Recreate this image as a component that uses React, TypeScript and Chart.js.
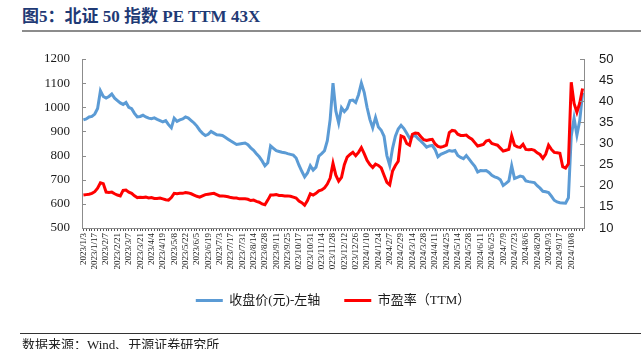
import React, { useEffect, useRef } from 'react';
import { Chart, registerables } from 'chart.js';

Chart.register(...registerables);

// Tick labels shown on the x axis (every 10 trading days)
const tickDates = [
  '2023/1/3', '2023/1/17', '2023/2/7', '2023/2/21', '2023/3/7', '2023/3/21', '2023/4/4', '2023/4/19',
  '2023/5/8', '2023/5/22', '2023/6/5', '2023/6/19', '2023/7/3', '2023/7/17', '2023/7/31', '2023/8/14',
  '2023/8/28', '2023/9/11', '2023/9/25', '2023/10/17', '2023/10/31', '2023/11/14', '2023/11/28',
  '2023/12/12', '2023/12/26', '2024/1/10', '2024/1/24', '2024/2/7', '2024/2/29', '2024/3/14',
  '2024/3/28', '2024/4/11', '2024/4/25', '2024/5/14', '2024/5/28', '2024/6/11', '2024/6/25',
  '2024/7/9', '2024/7/23', '2024/8/6', '2024/8/20', '2024/9/3', '2024/9/17', '2024/10/8',
];
const SAMPLES_PER_TICK = 4;

// 收盘价(元) - left axis
const closePrice = [
  948, 952, 960, 962, 972, 995, 1068, 1045, 1038, 1045,
  1055, 1038, 1028, 1018, 1012, 1020, 1000, 994, 975, 960,
  962, 967, 960, 955, 953, 956, 950, 945, 940, 945,
  928, 915, 955, 942, 948, 952, 960, 955, 945, 935,
  922, 905, 892, 883, 888, 900, 893, 886, 885, 883,
  876, 868, 860, 853, 846, 848, 850, 852, 845, 832,
  822, 808, 795, 778, 758, 770, 840, 830, 820, 817,
  814, 812, 808, 805, 802, 790, 760, 735, 712, 728,
  758, 740, 752, 798, 808, 820, 862, 950, 1100, 985,
  935, 998, 982, 995, 1028, 1030, 1020, 1052, 1100, 1062,
  1000, 950, 915, 958, 918, 905, 880, 800, 760, 830,
  880, 910, 925, 912, 892, 872, 880, 883, 870, 860,
  848, 835, 840, 842, 825, 795, 805, 810, 815, 821,
  818, 821, 800, 792, 787, 800, 785, 770, 755, 732,
  738, 737, 738, 730, 718, 712, 708, 700, 676, 685,
  695, 758, 705, 710, 715, 712, 695, 692, 690, 688,
  675, 665, 652, 650, 647, 632, 615, 608, 605, 604,
  603, 625, 880, 955, 885, 945, 1060,
];

// 市盈率(TTM) - right axis
const peTTM = [
  17.8, 17.9, 18.0, 18.2, 18.6, 19.4, 20.7, 20.5, 18.5, 18.4,
  18.5, 18.1, 17.8, 17.6, 18.9, 19.0, 18.5, 18.2, 17.6, 17.2,
  17.3, 17.2, 17.3, 17.1, 17.2, 17.0, 17.0, 17.1, 16.9, 16.7,
  16.6, 17.2, 18.2, 18.1, 18.2, 18.2, 18.4, 18.3, 18.1, 17.8,
  17.5, 17.3, 17.6, 17.9, 18.0, 18.1, 18.2, 17.9, 17.6, 17.6,
  17.5, 17.4, 17.2, 17.1, 17.1, 16.9, 16.9, 16.9, 16.8, 16.5,
  16.6, 16.3, 16.1, 15.7, 15.5, 16.6, 17.8, 17.8, 17.9, 17.7,
  17.7, 17.6, 17.6, 17.5, 17.3, 17.1, 16.4, 16.0, 15.4, 16.5,
  18.1, 17.8, 18.2, 18.8, 19.0, 19.5, 20.4, 21.8, 25.3, 22.5,
  21.1, 22.0, 25.0, 26.8, 27.4, 27.9, 27.1, 27.9, 29.0, 27.6,
  26.0, 25.0, 24.3, 25.1, 24.8, 24.2, 22.5, 20.8, 20.2, 23.5,
  24.8, 25.8, 31.8, 31.5, 30.0, 29.6, 32.2, 32.5, 32.4, 31.6,
  30.9, 30.7, 30.9, 31.0, 29.9, 29.3, 29.1, 29.3, 29.6, 32.6,
  33.1, 33.0, 32.2, 31.9, 31.9, 32.0, 31.4, 31.0, 30.2, 29.4,
  29.6, 29.8, 30.6, 30.8, 30.0, 29.8, 29.6, 28.9, 28.2, 28.4,
  28.6, 31.8, 29.6, 29.2, 29.1, 29.8, 28.6, 28.5, 28.6, 28.4,
  27.8, 27.4, 26.5, 27.5, 29.6, 28.6, 27.9, 27.8, 27.7, 24.5,
  24.2, 25.2, 44.5, 39.5, 37.4, 39.6, 43.0,
];

const seriesNames = ['收盘价(元)-左轴', '市盈率（TTM）'];
const leftTicks = { min: 500, max: 1200, step: 100 };
const rightTicks = { min: 10, max: 50, step: 5 };

const categories = closePrice.map((_, i) =>
  i % SAMPLES_PER_TICK === 0 ? tickDates[i / SAMPLES_PER_TICK] ?? '' : ''
);

const SERIF = '"Liberation Serif", "Times New Roman", "Noto Sans CJK SC", serif';
const SANS = '"Liberation Sans", Arial, sans-serif';

export default function App() {
  const ref = useRef<HTMLCanvasElement>(null);

  useEffect(() => {
    document.body.style.margin = '0';
    const insideTicks = {
      id: 'insideTicks',
      afterDraw(chart: any) {
        const { ctx, chartArea } = chart;
        ctx.save();
        ctx.strokeStyle = '#8c8c8c';
        ctx.lineWidth = 1;
        const yl = chart.scales.y;
        const yr = chart.scales.y1;
        yl.ticks.forEach((t: any) => {
          const p = Math.round(yl.getPixelForValue(t.value)) + 0.5;
          ctx.beginPath();
          ctx.moveTo(chartArea.left, p);
          ctx.lineTo(chartArea.left + 4, p);
          ctx.stroke();
        });
        yr.ticks.forEach((t: any) => {
          const p = Math.round(yr.getPixelForValue(t.value)) + 0.5;
          ctx.beginPath();
          ctx.moveTo(chartArea.right - 4, p);
          ctx.lineTo(chartArea.right, p);
          ctx.stroke();
        });
        ctx.restore();
      },
    };

    const chart = new Chart(ref.current as HTMLCanvasElement, {
      type: 'line',
      data: {
        labels: categories,
        datasets: [
          {
            label: seriesNames[0],
            data: closePrice,
            borderColor: '#5b9bd5',
            backgroundColor: '#5b9bd5',
            borderWidth: 3,
            pointRadius: 0,
            tension: 0,
            yAxisID: 'y',
            order: 1,
          },
          {
            label: seriesNames[1],
            data: peTTM,
            borderColor: '#ff0000',
            backgroundColor: '#ff0000',
            borderWidth: 3,
            pointRadius: 0,
            tension: 0,
            yAxisID: 'y1',
            order: 0,
          },
        ],
      },
      options: {
        responsive: false,
        animation: false,
        layout: { padding: { top: 59, left: 0, right: 0, bottom: 32 } },
        plugins: {
          tooltip: { enabled: false },
          legend: {
            position: 'bottom',
            fullSize: false,
            labels: {
              boxWidth: 27,
              boxHeight: 3,
              padding: 24,
              color: '#1a1a1a',
              font: { family: SERIF, size: 13 },
              sort: (a: any, b: any) => a.datasetIndex - b.datasetIndex,
              generateLabels: (c: any) =>
                (Chart.defaults.plugins.legend.labels.generateLabels as any)(c).map((l: any) => ({
                  ...l,
                  lineWidth: 0,
                })),
            },
          },
        },
        scales: {
          x: {
            type: 'category',
            offset: true,
            grid: {
              display: true,
              drawOnChartArea: false,
              drawTicks: true,
              tickLength: 3,
              color: '#555',
            },
            border: { display: true, color: '#8c8c8c' },
            ticks: {
              autoSkip: false,
              maxRotation: 90,
              minRotation: 90,
              padding: 2,
              color: '#1a1a1a',
              font: { family: SERIF, size: 9 },
            },
            afterFit: (s: any) => {
              s.height = 42;
            },
          },
          y: {
            position: 'left',
            min: leftTicks.min,
            max: leftTicks.max,
            grid: { display: false, drawTicks: false },
            border: { display: true, color: '#8c8c8c' },
            ticks: {
              stepSize: leftTicks.step,
              padding: 12,
              color: '#1a1a1a',
              font: { family: SERIF, size: 13 },
              callback: (v: any) => String(v),
            },
            afterFit: (s: any) => {
              s.width = 82;
            },
          },
          y1: {
            position: 'right',
            min: rightTicks.min,
            max: rightTicks.max,
            grid: { display: false, drawTicks: false },
            border: { display: true, color: '#8c8c8c' },
            ticks: {
              stepSize: rightTicks.step,
              padding: 15,
              color: '#1a1a1a',
              font: { family: SANS, size: 13 },
              callback: (v: any) => String(v),
            },
            afterFit: (s: any) => {
              s.width = 57;
            },
          },
        },
      },
      plugins: [insideTicks],
    } as any);

    return () => chart.destroy();
  }, []);

  return (
    <div style={{ position: 'relative', width: 641, height: 349, overflow: 'hidden', background: '#fff' }}>
      <div
        style={{
          position: 'absolute',
          left: 22,
          top: 6,
          font: `bold 17px ${SERIF}`,
          color: '#1f3a75',
          whiteSpace: 'nowrap',
          lineHeight: '21px',
        }}
      >
        图5：北证 50 指数 PE TTM 43X
      </div>
      <div style={{ position: 'absolute', left: 22, right: 0, top: 30, height: 2, background: '#8c8c8c' }} />
      <canvas ref={ref} width={641} height={349} style={{ position: 'absolute', left: 0, top: 0 }} />
      <div style={{ position: 'absolute', left: 20, right: 0, top: 333, height: 1, background: '#333' }} />
      <div
        style={{
          position: 'absolute',
          left: 22,
          top: 337,
          font: `13px ${SERIF}`,
          color: '#222',
          whiteSpace: 'nowrap',
          lineHeight: '16px',
        }}
      >
        数据来源：Wind、开源证券研究所
      </div>
    </div>
  );
}
